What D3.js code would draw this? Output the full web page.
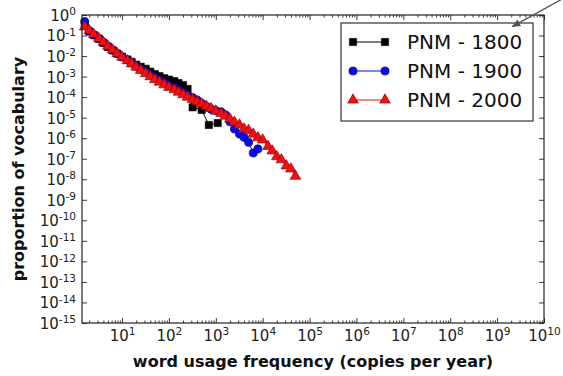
<!DOCTYPE html>
<html>
<head>
<meta charset="utf-8">
<script src="https://cdn.jsdelivr.net/npm/d3@7"></script>
<style>
  body { margin: 0; background: #fff; }
  text { font-family: "DejaVu Sans", sans-serif; }
</style>
</head>
<body>
<svg id="chart" width="563" height="376"></svg>
<script>
// word usage frequency bins (copies per year) and proportion of vocabulary
var x1800 = [1.6, 2.0, 2.5, 3.2, 4.0, 5.0, 6.3, 7.9, 10, 13, 16, 20, 25, 32, 40, 50, 63, 79,
             100, 130, 160, 200, 250, 320, 500, 710, 1100];
var y1800 = [3.2e-1, 1.58e-1, 1.05e-1, 6.9e-2, 4.4e-2, 2.8e-2, 1.9e-2, 1.32e-2, 9.3e-3, 6.8e-3,
             5.2e-3, 3.8e-3, 3.0e-3, 2.4e-3, 1.74e-3, 1.32e-3, 1.05e-3, 8.3e-4, 7.1e-4, 6.0e-4,
             4.8e-4, 3.8e-4, 2.5e-4, 3.2e-5, 2.4e-5, 4.4e-6, 5.5e-6];

var x1900 = [1.6, 2.0, 2.5, 3.2, 4.0, 5.0, 6.3, 7.9, 10, 13, 16, 20, 25, 32, 40, 50, 63, 79,
             100, 130, 160, 200, 250, 320, 400, 500, 630, 790, 1000, 1300, 1600, 2000, 2500,
             3200, 4000, 5000, 6300, 7900];
var y1900 = [4.8e-1, 1.66e-1, 1.07e-1, 7.1e-2, 4.6e-2, 3.0e-2, 1.95e-2, 1.32e-2, 9.1e-3, 6.5e-3,
             4.6e-3, 3.2e-3, 2.3e-3, 1.66e-3, 1.2e-3, 8.9e-4, 6.6e-4, 5.0e-4, 3.8e-4, 2.9e-4,
             2.2e-4, 1.66e-4, 1.26e-4, 9.5e-5, 7.2e-5, 5.0e-5, 3.5e-5, 2.6e-5, 2.2e-5, 1.9e-5,
             1.38e-5, 6.3e-6, 2.8e-6, 1.58e-6, 1.1e-6, 6.3e-7, 1.9e-7, 3.0e-7];

var x2000 = [1.6, 2.0, 2.5, 3.2, 4.0, 5.0, 6.3, 7.9, 10, 13, 16, 20, 25, 32, 40, 50, 63, 79,
             100, 130, 160, 200, 250, 320, 400, 500, 630, 790, 1000, 1300, 1600, 2000, 2500,
             3200, 4000, 5000, 6300, 7900, 1.0e4, 1.3e4, 1.6e4, 2.0e4, 2.5e4, 3.2e4, 4.0e4, 5.0e4];
var y2000 = [2.63e-1, 1.78e-1, 1.12e-1, 7.2e-2, 4.7e-2, 3.0e-2, 2.0e-2, 1.32e-2, 8.9e-3, 6.0e-3,
             4.2e-3, 2.9e-3, 2.0e-3, 1.41e-3, 1.0e-3, 7.2e-4, 5.4e-4, 4.0e-4, 3.0e-4, 2.3e-4,
             1.74e-4, 1.32e-4, 1.0e-4, 7.8e-5, 6.0e-5, 4.7e-5, 3.6e-5, 2.8e-5, 2.1e-5, 1.62e-5,
             1.2e-5, 8.7e-6, 6.0e-6, 4.4e-6, 2.8e-6, 2.4e-6, 1.58e-6, 1.05e-6, 8.3e-7, 4.0e-7,
             2.4e-7, 1.26e-7, 8.9e-8, 4.5e-8, 3.2e-8, 1.41e-8];

var seriesNames = ["PNM - 1800", "PNM - 1900", "PNM - 2000"];
var xTicks = [1e1, 1e2, 1e3, 1e4, 1e5, 1e6, 1e7, 1e8, 1e9, 1e10];
var yTicks = [1e0, 1e-1, 1e-2, 1e-3, 1e-4, 1e-5, 1e-6, 1e-7, 1e-8, 1e-9, 1e-10,
              1e-11, 1e-12, 1e-13, 1e-14, 1e-15];
var arrowTail = [2.6e10, 6.5];
var arrowTip = [2.1e9, 0.27];

var svgWidth = 563, svgHeight = 376;
var margin = { top: 15, right: 19, bottom: 53, left: 82 };
var width = svgWidth - margin.left - margin.right;
var height = svgHeight - margin.top - margin.bottom;

var x = d3.scaleLog().domain([1.4, 1e10]).range([0, width]);
var y = d3.scaleLog().domain([1e-15, 1]).range([height, 0]);

var styles = [
    { line: "#000000", fill: "#000000", stroke: "#000000", symbol: d3.symbolSquare, size: 52 },
    { line: "#0000ee", fill: "#0b0be6", stroke: "#00007a", symbol: d3.symbolCircle, size: 52 },
    { line: "#ee1111", fill: "#ee1111", stroke: "#8a0000", symbol: d3.symbolTriangle, size: 50 }
];

var svg = d3.select("#chart");
var g = svg.append("g").attr("transform", "translate(" + margin.left + "," + margin.top + ")");

// minor ticks on x (2..9 per decade)
var xMinor = [];
xTicks.concat([1]).forEach(function (t) {
    [2, 3, 4, 5, 6, 7, 8, 9].forEach(function (k) {
        var v = t * k;
        if (v > 1.4 && v < 1e10) xMinor.push(v);
    });
});

function supLabels(sel, anchor) {
    sel.each(function (d) {
        var t = d3.select(this);
        var e = Math.round(Math.log10(d));
        t.text(null).attr("text-anchor", anchor);
        t.append("tspan").text("10");
        t.append("tspan").attr("dy", "-0.55em").attr("font-size", "10.5px").text(String(e));
    });
}

// x axis, bottom
var xb = g.append("g").attr("transform", "translate(0," + height + ")")
    .call(d3.axisBottom(x).tickValues(xTicks).tickSizeInner(-5).tickSizeOuter(0).tickPadding(7));
xb.selectAll(".tick text").attr("font-size", "15px").attr("fill", "#222").call(supLabels, "middle");
g.append("g").attr("transform", "translate(0," + height + ")")
    .call(d3.axisBottom(x).tickValues(xMinor).tickSizeInner(-2.5).tickSizeOuter(0).tickFormat(""));

// x axis, top
g.append("g").call(d3.axisTop(x).tickValues(xTicks).tickSizeInner(-5).tickSizeOuter(0).tickFormat(""));
g.append("g").call(d3.axisTop(x).tickValues(xMinor).tickSizeInner(-2.5).tickSizeOuter(0).tickFormat(""));

// y axis, left and right
var yl = g.append("g")
    .call(d3.axisLeft(y).tickValues(yTicks).tickSizeInner(-5).tickSizeOuter(0).tickPadding(6));
yl.selectAll(".tick text").attr("font-size", "15px").attr("fill", "#222").attr("dy", "0.36em").call(supLabels, "end");
g.append("g").attr("transform", "translate(" + width + ",0)")
    .call(d3.axisRight(y).tickValues(yTicks).tickSizeInner(-5).tickSizeOuter(0).tickFormat(""));

g.selectAll(".domain").remove();
g.selectAll(".tick line").attr("stroke", "#222").attr("stroke-width", 0.9);

// data series
var series = [
    d3.zip(x1800, y1800),
    d3.zip(x1900, y1900),
    d3.zip(x2000, y2000)
];

var line = d3.line()
    .x(function (d) { return x(d[0]); })
    .y(function (d) { return y(d[1]); });

var plot = g.append("g");
series.forEach(function (data, i) {
    var s = styles[i];
    plot.append("path").datum(data)
        .attr("d", line)
        .attr("fill", "none")
        .attr("stroke", s.line)
        .attr("stroke-width", 1);
    plot.selectAll(".m" + i).data(data).enter().append("path")
        .attr("class", "m" + i)
        .attr("transform", function (d) { return "translate(" + x(d[0]) + "," + y(d[1]) + ")"; })
        .attr("d", d3.symbol().type(s.symbol).size(s.size))
        .attr("fill", s.fill)
        .attr("stroke", s.stroke)
        .attr("stroke-width", 0.6);
});

// frame
g.append("rect")
    .attr("width", width).attr("height", height)
    .attr("fill", "none").attr("stroke", "#222").attr("stroke-width", 1.2);

// legend
var legend = g.append("g").attr("transform", "translate(" + (341 - margin.left) + "," + (23 - margin.top) + ")");
legend.append("rect")
    .attr("width", 192).attr("height", 98)
    .attr("fill", "#fff").attr("stroke", "#333").attr("stroke-width", 1.2);
seriesNames.forEach(function (name, i) {
    var s = styles[i];
    var row = legend.append("g").attr("transform", "translate(0," + (19 + i * 29) + ")");
    row.append("line").attr("x1", 12).attr("x2", 44).attr("stroke", s.line).attr("stroke-width", 1);
    [12, 44].forEach(function (px) {
        row.append("path")
            .attr("transform", "translate(" + px + ",0)")
            .attr("d", d3.symbol().type(s.symbol).size(s.size))
            .attr("fill", s.fill).attr("stroke", s.stroke).attr("stroke-width", 0.6);
    });
    row.append("text").attr("x", 66).attr("dy", "0.36em")
        .attr("font-size", "20px").attr("fill", "#111").text(name);
});

// annotation arrow
svg.append("defs").append("marker")
    .attr("id", "ah").attr("viewBox", "0 0 10 10").attr("refX", 9).attr("refY", 5)
    .attr("markerWidth", 7).attr("markerHeight", 7).attr("orient", "auto")
    .append("path").attr("d", "M0,1L10,5L0,9Z").attr("fill", "#555");
g.append("line")
    .attr("x1", x(arrowTail[0])).attr("y1", y(arrowTail[1]))
    .attr("x2", x(arrowTip[0])).attr("y2", y(arrowTip[1]))
    .attr("stroke", "#555").attr("stroke-width", 1.3)
    .attr("marker-end", "url(#ah)");

// axis labels
svg.append("text")
    .attr("x", margin.left + width / 2).attr("y", 367)
    .attr("text-anchor", "middle").attr("font-size", "16px").attr("font-weight", "bold")
    .attr("fill", "#111")
    .text("word usage frequency (copies per year)");
svg.append("text")
    .attr("transform", "translate(24," + (margin.top + height / 2) + ") rotate(-90)")
    .attr("text-anchor", "middle").attr("font-size", "16px").attr("font-weight", "bold")
    .attr("fill", "#111")
    .text("proportion of vocabulary");
</script>
</body>
</html>
